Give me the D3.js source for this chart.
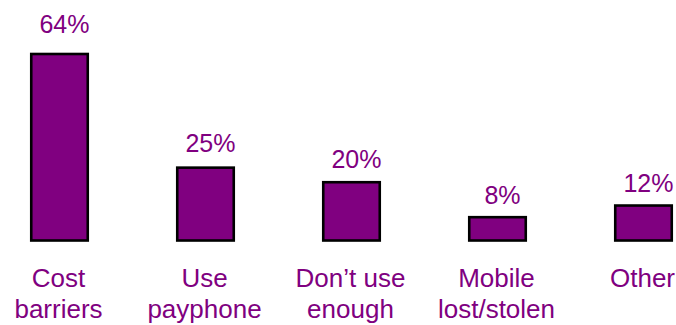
<!DOCTYPE html>
<html>
<head>
<meta charset="utf-8">
<script src="https://cdn.jsdelivr.net/npm/d3@7"></script>
<style>
  html, body { margin: 0; padding: 0; background: #fff; }
  svg { display: block; }
  text { font-family: "Liberation Sans", Arial, sans-serif; fill: #800080; }
</style>
</head>
<body>
<script>
const categories = [["Cost", "barriers"], ["Use", "payphone"], ["Don\u2019t use", "enough"], ["Mobile", "lost/stolen"], ["Other"]];
const values = [64, 25, 20, 8, 12];
const valueLabels = ["64%", "25%", "20%", "8%", "12%"];

const W = 676, H = 325;
const svg = d3.select("body").append("svg").attr("width", W).attr("height", H);

const idx = d3.range(values.length);
const x = d3.scaleBand().domain(idx).range([-13.5, 716.5]).paddingInner(0.613).paddingOuter(0.3065);
const y = d3.scaleLinear().domain([0, 64]).range([240.5, 54]);
const yLabel = d3.scaleLinear().domain([0, 64]).range([228.8, 32.7]);

svg.selectAll("rect.bar").data(idx).join("rect")
  .attr("class", "bar")
  .attr("x", i => x(i))
  .attr("width", x.bandwidth())
  .attr("y", i => y(values[i]))
  .attr("height", i => y(0) - y(values[i]))
  .attr("fill", "#800080")
  .attr("stroke", "#000")
  .attr("stroke-width", 2.6);

svg.selectAll("text.val").data(idx).join("text")
  .attr("class", "val")
  .attr("x", i => x(i) + x.bandwidth() / 2 + 5)
  .attr("y", i => yLabel(values[i]))
  .attr("text-anchor", "middle")
  .attr("font-size", 25)
  .text(i => valueLabels[i]);

const cat = svg.selectAll("text.cat").data(idx).join("text")
  .attr("class", "cat")
  .attr("text-anchor", "middle")
  .attr("font-size", 26)
  .attr("y", 287.3);
cat.each(function(i) {
  const t = d3.select(this);
  categories[i].forEach((line, k) => {
    t.append("tspan")
      .attr("x", x(i) + x.bandwidth() / 2 - 1)
      .attr("dy", k === 0 ? 0 : 31)
      .text(line);
  });
});
</script>
</body>
</html>
